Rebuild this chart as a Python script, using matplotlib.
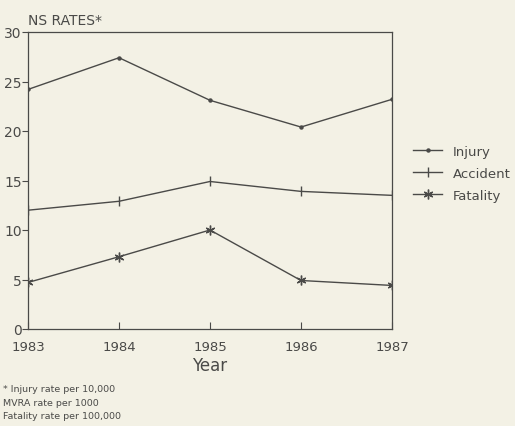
import matplotlib
matplotlib.use("Agg")
import matplotlib.pyplot as plt

years = [1983, 1984, 1985, 1986, 1987]
injury = [24.2, 27.4, 23.1, 20.4, 23.2]
accident = [12.0, 12.9, 14.9, 13.9, 13.5]
fatality = [4.7, 7.3, 10.0, 4.9, 4.4]
series_labels = ["Injury", "Accident", "Fatality"]
yticks = [0, 5, 10, 15, 20, 25, 30]
footnotes = ["* Injury rate per 10,000", "MVRA rate per 1000", "Fatality rate per 100,000"]

bg = "#f3f1e5"
ink = "#4a4a48"
plt.rcParams["font.family"] = ["DejaVu Sans"]

fig = plt.figure(figsize=(5.15, 4.27), dpi=100, facecolor=bg)
ax = fig.add_axes([28/515, 1-330/427, 364/515, 297/427])
ax.set_facecolor(bg)

lw = 1.0
ax.plot(years, injury, color=ink, lw=lw, marker="o", ms=2.2, label=series_labels[0])
ax.plot(years, accident, color=ink, lw=lw, marker="|", ms=7, mew=1.0, label=series_labels[1])
ax.plot(years, fatality, color=ink, lw=lw, marker=(6, 2, 0), ms=7, mew=1.0, label=series_labels[2])

ax.set_xlim(1983, 1987)
ax.set_ylim(0, 30)
ax.set_xticks(years)
ax.set_yticks(yticks)
ax.tick_params(axis="x", direction="in", length=5, width=0.8, colors=ink, labelsize=9.5, pad=8)
ax.tick_params(axis="y", direction="out", length=4, width=0.8, colors=ink, labelsize=10, pad=0.5)
for s in ax.spines.values():
    s.set_color(ink)
    s.set_linewidth(0.9)

ax.set_xlabel("Year", fontsize=12, color=ink, labelpad=2)
fig.text(28/515, 1-21/427, "NS RATES*", fontsize=10, color=ink, va="center", ha="left")

for i, t in enumerate(footnotes):
    fig.text(3/515, 1-(390+13.5*i)/427, t, fontsize=6.8, color=ink, va="center", ha="left")

leg = fig.legend(loc="upper left", bbox_to_anchor=(413/515, 1-146/427), frameon=False,
                 fontsize=9.5, handlelength=2.2, handletextpad=0.85, labelspacing=0.68,
                 borderpad=0, borderaxespad=0)
for t in leg.get_texts():
    t.set_color(ink)

fig.savefig("out.png", dpi=100, facecolor=bg)
